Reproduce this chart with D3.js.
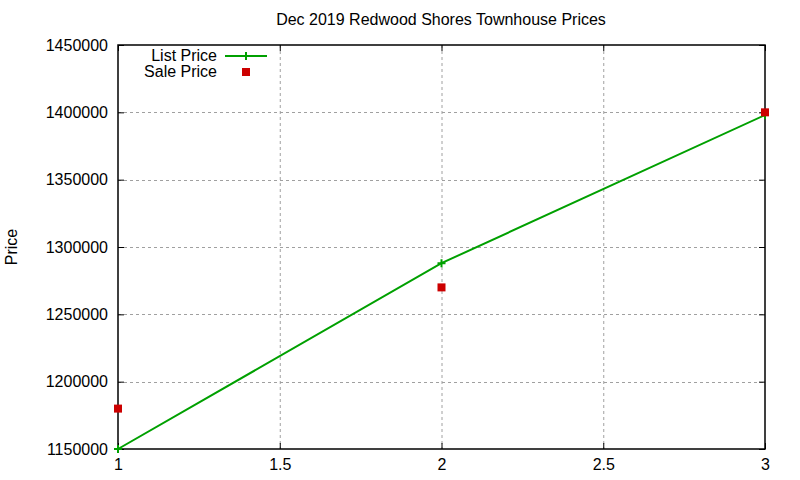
<!DOCTYPE html>
<html>
<head>
<meta charset="utf-8">
<script src="https://cdn.jsdelivr.net/npm/d3@7"></script>
<style>
  body { margin: 0; background: #fff; }
  text { font-family: "Liberation Sans", Arial, sans-serif; fill: #000; }
</style>
</head>
<body>
<svg id="chart" width="800" height="480"></svg>
<script>
// values
var xs = [1, 2, 3];
var listPrice = [1150000, 1288000, 1398000];
var salePrice = [1180000, 1270000, 1400000];
var xTicks = [1, 1.5, 2, 2.5, 3];
var yTicks = [1150000, 1200000, 1250000, 1300000, 1350000, 1400000, 1450000];

function drawChart() {
    var green = "#00a000", red = "#cc0000";
    var fs = "16px";

    var svg = d3.select("#chart");
    var pl = 118, pr = 765, pt = 45, pb = 449;

    var x = d3.scaleLinear().domain([1, 3]).range([pl, pr]);
    var y = d3.scaleLinear().domain([1150000, 1450000]).range([pb, pt]);

    // grid
    var grid = svg.append("g").attr("stroke", "#a0a0a0").attr("stroke-width", 1).attr("stroke-dasharray", "3,3");
    xTicks.slice(1, -1).forEach(function(t) {
        grid.append("line").attr("x1", x(t) + 0.5).attr("x2", x(t) + 0.5).attr("y1", pt).attr("y2", pb);
    });
    yTicks.slice(1, -1).forEach(function(t) {
        grid.append("line").attr("x1", pl).attr("x2", pr).attr("y1", Math.round(y(t)) + 0.5).attr("y2", Math.round(y(t)) + 0.5);
    });

    // axes (ticks inward, mirrored)
    var bottomAx = svg.append("g").attr("transform", "translate(0," + pb + ")")
        .call(d3.axisBottom(x).tickValues(xTicks).tickSizeInner(-6).tickSizeOuter(0).tickPadding(10).tickFormat(d3.format("")));
    var leftAx = svg.append("g").attr("transform", "translate(" + pl + ",0)")
        .call(d3.axisLeft(y).tickValues(yTicks).tickSizeInner(-6).tickSizeOuter(0).tickPadding(10).tickFormat(d3.format("d")));
    var topAx = svg.append("g").attr("transform", "translate(0," + pt + ")")
        .call(d3.axisTop(x).tickValues(xTicks).tickSizeInner(-6).tickSizeOuter(0).tickFormat(""));
    var rightAx = svg.append("g").attr("transform", "translate(" + pr + ",0)")
        .call(d3.axisRight(y).tickValues(yTicks).tickSizeInner(-6).tickSizeOuter(0).tickFormat(""));
    [bottomAx, leftAx, topAx, rightAx].forEach(function(g) {
        g.select(".domain").remove();
        g.selectAll("line").attr("stroke", "#000");
        g.selectAll("text").style("font-size", fs).attr("fill", "#000");
    });

    svg.append("rect").attr("x", pl).attr("y", pt).attr("width", pr - pl).attr("height", pb - pt)
        .attr("fill", "none").attr("stroke", "#000").attr("stroke-width", 1.5);

    // list price line
    var pts = xs.map(function(d, i) { return [d, listPrice[i]]; });
    svg.append("path").datum(pts)
        .attr("fill", "none").attr("stroke", green).attr("stroke-width", 2)
        .attr("d", d3.line().x(function(d) { return x(d[0]); }).y(function(d) { return y(d[1]); }));

    function plus(g, cx, cy) {
        g.append("path").attr("d", "M" + (cx - 4) + "," + cy + "H" + (cx + 4) + "M" + cx + "," + (cy - 4) + "V" + (cy + 4))
            .attr("stroke", green).attr("stroke-width", 2).attr("fill", "none");
    }
    pts.forEach(function(d) { plus(svg, x(d[0]), y(d[1])); });

    // sale price squares
    svg.selectAll(".sale").data(xs).enter().append("rect")
        .attr("class", "sale")
        .attr("x", function(d) { return x(d) - 4; })
        .attr("y", function(d, i) { return y(salePrice[i]) - 4; })
        .attr("width", 8).attr("height", 8).attr("fill", red);

    // title and y label
    svg.append("text").attr("x", 441).attr("y", 25).attr("text-anchor", "middle").style("font-size", fs)
        .text("Dec 2019 Redwood Shores Townhouse Prices");
    svg.append("text").attr("transform", "translate(17,247) rotate(-90)").attr("text-anchor", "middle").style("font-size", fs)
        .text("Price");

    // legend
    var lg = svg.append("g");
    lg.append("text").attr("x", 217).attr("y", 61).attr("text-anchor", "end").style("font-size", fs).text("List Price");
    lg.append("line").attr("x1", 225).attr("x2", 267).attr("y1", 56).attr("y2", 56).attr("stroke", green).attr("stroke-width", 2);
    plus(lg, 246, 56);
    lg.append("text").attr("x", 217).attr("y", 77).attr("text-anchor", "end").style("font-size", fs).text("Sale Price");
    lg.append("rect").attr("x", 242).attr("y", 68).attr("width", 8).attr("height", 8).attr("fill", red);
}

drawChart();
</script>
</body>
</html>
